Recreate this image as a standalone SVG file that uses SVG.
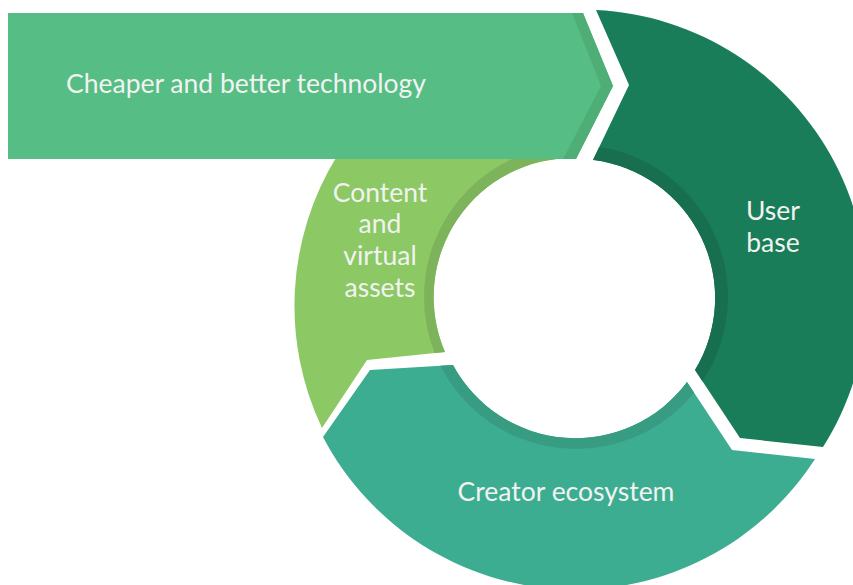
<svg xmlns="http://www.w3.org/2000/svg" xmlns:xlink="http://www.w3.org/1999/xlink" width="853" height="585" viewBox="0 0 853 585">
  <style>
    .lbl { font-family: Lato, "Liberation Sans", sans-serif; font-size: 26.5px; fill: #f1f3f1; }
    .mid { text-anchor: middle; }
    .band { fill: none; stroke-width: 14; }
  </style>
  <defs>
    <path id="p-content" d="M322,428 A285,285 0 0 1 337,156 L576,156 L576,158 A139,139 0 0 0 445,352 L367,360 Z"/>
    <path id="p-user" d="M596,10 A285,285 0 0 1 823,447 L740,438 L695,370 A139,139 0 0 0 593,160 L629,85 Z"/>
    <path id="p-creator" d="M815,459 A285,285 0 0 1 323,437 L370,370 L453,365 A139,139 0 0 0 687,382 L732,450 Z"/>
    <clipPath id="c-content"><use xlink:href="#p-content"/></clipPath>
    <clipPath id="c-user"><use xlink:href="#p-user"/></clipPath>
    <clipPath id="c-creator"><use xlink:href="#p-creator"/></clipPath>
  </defs>
  <rect width="853" height="585" fill="#ffffff"/>

  <g id="node-content">
    <use xlink:href="#p-content" fill="#8cc864"/>
    <circle class="band" cx="576" cy="297" r="145" stroke="#7db35a" clip-path="url(#c-content)"/>
    <text class="lbl mid" x="380" y="202">Content</text>
    <text class="lbl mid" x="380" y="233">and</text>
    <text class="lbl mid" x="380" y="265">virtual</text>
    <text class="lbl mid" x="380" y="297">assets</text>
  </g>

  <g id="node-technology">
    <path d="M8,13 L583,13 L613,86 L576,159 L8,159 Z" fill="#56bd84"/>
    <path d="M572,13 L583,13 L613,86 L576,159 L563,159 L601,86 Z" fill="#4fae76"/>
    <text class="lbl" x="66" y="93">Cheaper and better technology</text>
  </g>

  <g id="node-user">
    <use xlink:href="#p-user" fill="#1a7d5a"/>
    <circle class="band" cx="576" cy="297" r="145" stroke="#186f50" clip-path="url(#c-user)"/>
    <text class="lbl mid" x="773" y="220">User</text>
    <text class="lbl mid" x="773" y="252">base</text>
  </g>

  <g id="node-creator">
    <use xlink:href="#p-creator" fill="#3dad92"/>
    <circle class="band" cx="576" cy="297" r="145" stroke="#379c82" clip-path="url(#c-creator)"/>
    <text class="lbl mid" x="566" y="501">Creator ecosystem</text>
  </g>
</svg>
